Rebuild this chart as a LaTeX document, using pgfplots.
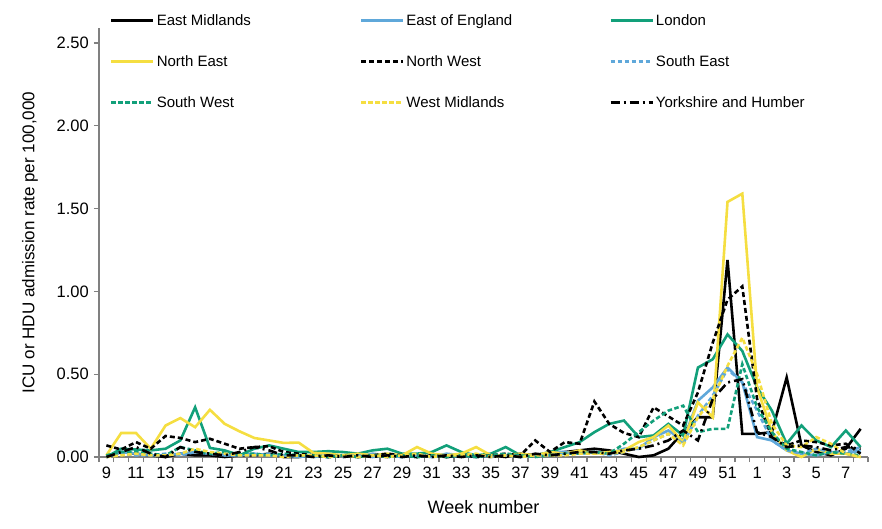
\documentclass[border=0pt]{standalone}
\usepackage{pgfplots}
\pgfplotsset{compat=1.18}
\usepackage{pgfplotstable}
\usepackage{fontspec}
\setmainfont{Liberation Sans}
\definecolor{cblue}{RGB}{95,168,218}
\definecolor{cteal}{RGB}{18,160,122}
\definecolor{cyel}{RGB}{245,222,65}
\definecolor{axgray}{RGB}{128,128,128}
\pgfplotstableread{
i EM EE LON NE NW SE SW WM YH
0 0.00 0.00 0.00 0.01 0.07 0.00 0.01 0.00 0.00
1 0.03 0.03 0.05 0.145 0.045 0.02 0.03 0.01 0.03
2 0.02 0.02 0.045 0.145 0.09 0.01 0.03 0.02 0.06
3 0.01 0.01 0.04 0.05 0.05 0.01 0.02 0.01 0.02
4 0.00 0.01 0.05 0.19 0.127 0.02 0.01 0.01 0.00
5 0.02 0.02 0.10 0.235 0.115 0.01 0.06 0.02 0.06
6 0.01 0.03 0.30 0.18 0.09 0.03 0.04 0.05 0.03
7 0.01 0.02 0.055 0.285 0.11 0.02 0.02 0.03 0.02
8 0.00 0.01 0.04 0.20 0.08 0.01 0.03 0.02 0.01
9 0.01 0.01 0.01 0.155 0.05 0.01 0.02 0.01 0.03
10 0.01 0.02 0.05 0.115 0.06 0.01 0.02 0.01 0.06
11 0.02 0.01 0.07 0.10 0.065 0.02 0.01 0.01 0.04
12 0.00 0.01 0.05 0.085 0.03 0.01 0.02 0.00 0.01
13 0.00 0.00 0.03 0.087 0.02 0.01 0.01 0.01 0.01
14 0.01 0.01 0.03 0.025 0.01 0.00 0.01 0.01 0.00
15 0.00 0.00 0.035 0.02 0.00 0.01 0.00 0.00 0.01
16 0.01 0.01 0.03 0.01 0.01 0.00 0.01 0.01 0.00
17 0.00 0.00 0.02 0.02 0.00 0.01 0.00 0.00 0.01
18 0.01 0.02 0.04 0.01 0.01 0.00 0.01 0.01 0.00
19 0.00 0.01 0.05 0.02 0.02 0.01 0.00 0.00 0.01
20 0.01 0.00 0.02 0.01 0.01 0.00 0.01 0.01 0.00
21 0.00 0.01 0.02 0.06 0.00 0.01 0.00 0.02 0.01
22 0.01 0.00 0.03 0.02 0.01 0.00 0.01 0.00 0.00
23 0.00 0.02 0.07 0.01 0.00 0.01 0.00 0.01 0.01
24 0.01 0.01 0.03 0.02 0.01 0.00 0.01 0.01 0.00
25 0.00 0.00 0.01 0.06 0.00 0.01 0.00 0.02 0.01
26 0.01 0.01 0.02 0.01 0.01 0.00 0.01 0.00 0.00
27 0.00 0.01 0.06 0.01 0.02 0.01 0.02 0.01 0.01
28 0.02 0.00 0.01 0.02 0.01 0.00 0.01 0.00 0.00
29 0.01 0.01 0.01 0.01 0.10 0.01 0.00 0.01 0.02
30 0.02 0.03 0.03 0.03 0.03 0.01 0.01 0.01 0.01
31 0.03 0.03 0.06 0.02 0.09 0.02 0.02 0.01 0.02
32 0.04 0.02 0.09 0.04 0.08 0.02 0.02 0.02 0.03
33 0.05 0.03 0.15 0.02 0.335 0.03 0.03 0.02 0.03
34 0.04 0.02 0.20 0.03 0.20 0.01 0.02 0.02 0.02
35 0.02 0.05 0.22 0.04 0.145 0.03 0.08 0.03 0.04
36 0.00 0.05 0.12 0.09 0.12 0.06 0.15 0.06 0.05
37 0.01 0.12 0.13 0.12 0.30 0.10 0.22 0.10 0.07
38 0.05 0.16 0.20 0.19 0.245 0.14 0.28 0.14 0.10
39 0.15 0.10 0.13 0.09 0.19 0.08 0.31 0.07 0.16
40 0.24 0.34 0.54 0.33 0.39 0.25 0.15 0.24 0.10
41 0.24 0.42 0.59 0.24 0.69 0.37 0.17 0.35 0.35
42 1.19 0.54 0.74 1.54 0.95 0.53 0.17 0.55 0.45
43 0.14 0.45 0.64 1.59 1.03 0.45 0.56 0.72 0.47
44 0.14 0.12 0.42 0.42 0.35 0.28 0.30 0.50 0.15
45 0.15 0.10 0.28 0.15 0.12 0.10 0.15 0.20 0.12
46 0.48 0.04 0.08 0.04 0.07 0.04 0.05 0.07 0.06
47 0.07 0.02 0.19 0.00 0.10 0.02 0.03 0.06 0.07
48 0.03 0.01 0.10 0.05 0.09 0.05 0.01 0.12 0.06
49 0.01 0.03 0.06 0.02 0.07 0.03 0.03 0.08 0.04
50 0.05 0.02 0.16 0.02 0.08 0.03 0.02 0.02 0.06
51 0.17 0.04 0.06 0.00 0.02 0.06 0.01 0.00 0.05
}\data
\newcommand{\legtxt}[1]{\makebox[201pt][l]{\strut #1}}
\begin{document}
\fontsize{15}{18}\selectfont
\begin{tikzpicture}
\path[use as bounding box] (0,0) rectangle (882pt,528pt);
\begin{axis}[
  at={(99pt,71pt)}, anchor=south west,
  scale only axis, width=769pt, height=429pt,
  xmin=-0.5, xmax=51.5, ymin=0, ymax=2.59,
  clip=false,
  axis x line*=bottom, axis y line*=left,
  axis line style={axgray, line width=1.5pt},
  tick align=outside, major tick length=5pt,
  tick style={axgray, line width=1.3pt},
  xtick={-0.5,0.5,...,51.5}, xticklabels={},
  extra x ticks={0,2,...,50},
  extra x tick labels={9,11,13,15,17,19,21,23,25,27,29,31,33,35,37,39,41,43,45,47,49,51,1,3,5,7},
  extra x tick style={major tick length=0pt, tick label style={yshift=-5pt}},
  ytick={0,0.5,...,2.5},
  /pgf/number format/assume math mode=true,
  yticklabel style={/pgf/number format/.cd, fixed, fixed zerofill, precision=2},
  ticklabel style={font=\fontsize{16.5}{19}\selectfont},
  xlabel={Week number},
  ylabel={ICU or HDU admission rate per 100,000},
  every axis x label/.style={at={(axis description cs:0.5,-0.1166)}, anchor=center, font=\fontsize{18}{21}\selectfont},
  every axis y label/.style={at={(axis description cs:-0.0897,0.5)}, rotate=90, anchor=center, font=\fontsize{17}{20}\selectfont},
  legend columns=3,
  legend cell align=left,
  legend image code/.code={\draw[#1] (0pt,0pt) -- (42pt,0pt);},
  legend style={at={(axis description cs:0.0143,1.0396)}, anchor=north west,
    draw=none, fill=none, inner sep=0pt, row sep=22pt,
    nodes={inner sep=2pt}, font=\fontsize{15}{18}\selectfont},
]
\addplot[black, line width=2.6pt] table[x=i,y=EM]{\data};
\addlegendentry{\legtxt{East Midlands}}
\addplot[cblue, line width=2.6pt] table[x=i,y=EE]{\data};
\addlegendentry{\legtxt{East of England}}
\addplot[cteal, line width=2.6pt] table[x=i,y=LON]{\data};
\addlegendentry{\legtxt{London}}
\addplot[cyel, line width=2.6pt] table[x=i,y=NE]{\data};
\addlegendentry{\legtxt{North East}}
\addplot[black, line width=2.6pt, dash pattern=on 5pt off 3pt] table[x=i,y=NW]{\data};
\addlegendentry{\legtxt{North West}}
\addplot[cblue, line width=2.6pt, dash pattern=on 4.5pt off 2.5pt] table[x=i,y=SE]{\data};
\addlegendentry{\legtxt{South East}}
\addplot[cteal, line width=2.6pt, dash pattern=on 4.5pt off 2.5pt] table[x=i,y=SW]{\data};
\addlegendentry{\legtxt{South West}}
\addplot[cyel, line width=2.6pt, dash pattern=on 4.5pt off 2.5pt] table[x=i,y=WM]{\data};
\addlegendentry{\legtxt{West Midlands}}
\addplot[black, line width=2.6pt, dash pattern=on 9pt off 4pt on 2pt off 4pt] table[x=i,y=YH]{\data};
\addlegendentry{\legtxt{Yorkshire and Humber}}
\end{axis}
\end{tikzpicture}
\end{document}
